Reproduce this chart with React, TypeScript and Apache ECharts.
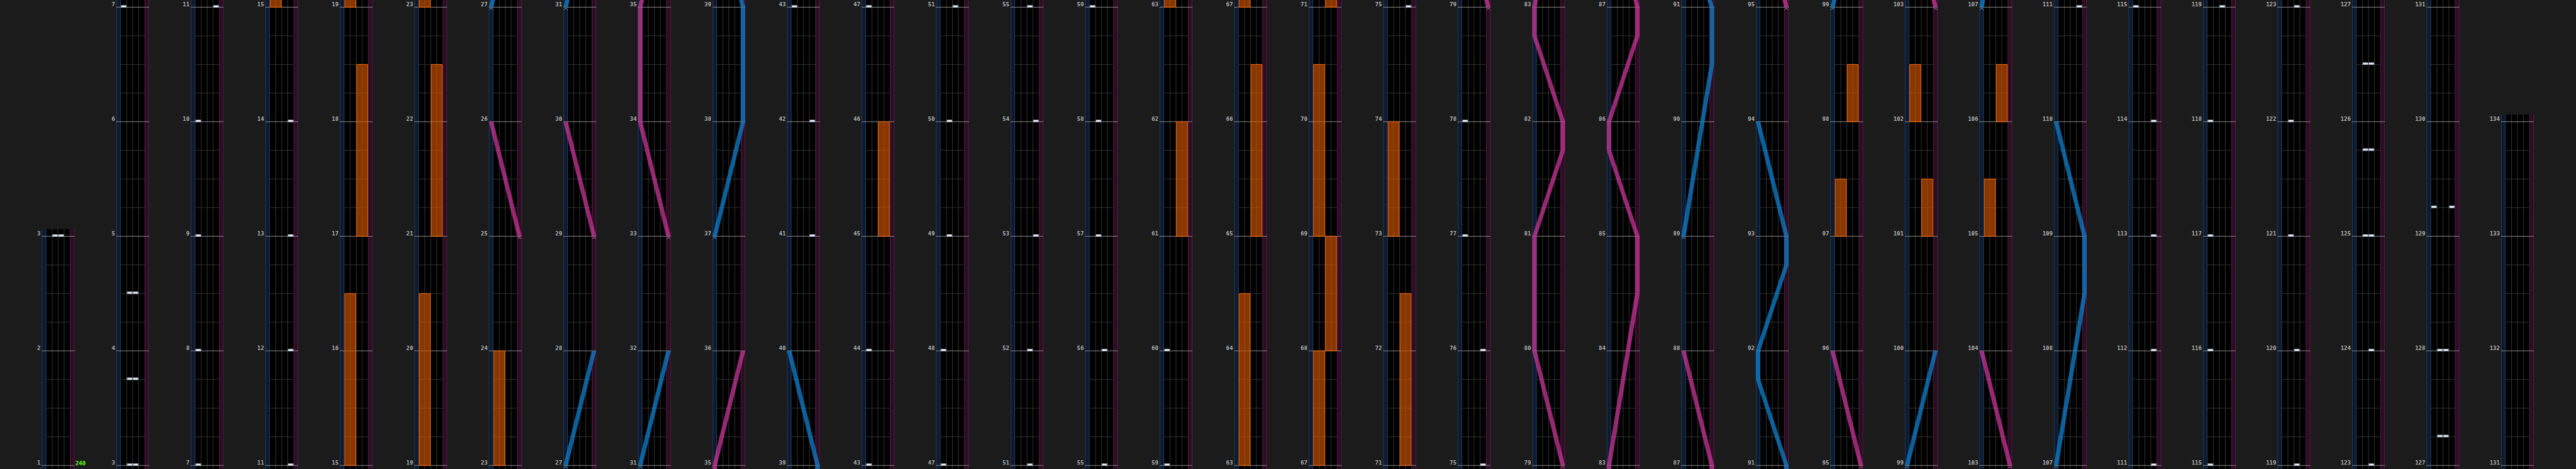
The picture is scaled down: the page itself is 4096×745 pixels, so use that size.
import React, { useEffect, useRef } from "react";
import * as echarts from "echarts";

// ---------- data ----------
// measure range shown by each column (bottom -> top)
const columnStarts = [1, 3, 7, 11, 15, 19, 23, 27, 31, 35, 39, 43, 47, 51, 55, 59, 63, 67, 71, 75, 79, 83, 87, 91, 95, 99, 103, 107, 111, 115, 119, 123, 127, 131];
const columnEnds = [3, 7, 11, 15, 19, 23, 27, 31, 35, 39, 43, 47, 51, 55, 59, 63, 67, 71, 75, 79, 83, 87, 91, 95, 99, 103, 107, 111, 115, 119, 123, 127, 131, 134];

// tempo marks: [measure, bpm]
const bpmChanges: [number, number][] = [[1, 240]];

// BT chips: [measure, lane 0..3]
const btNotes: [number, number][] = [
  [3, 1], [3, 2], [3.75, 1], [3.75, 2], [4.5, 1], [4.5, 2],
  [7, 0], [8, 0], [9, 0], [10, 0],
  [11, 3], [12, 3], [13, 3], [14, 3],
  [41, 3], [42, 3], [43, 0], [44, 0], [47, 0], [48, 0],
  [49, 1], [50, 1], [51, 2], [52, 2], [53, 3], [54, 3], [55, 2], [56, 2],
  [57, 1], [58, 1], [59, 0], [60, 0],
  [75, 3], [76, 3], [77, 0], [78, 0],
  [111, 3], [112, 3], [113, 3], [114, 3],
  [115, 0], [116, 0], [117, 0], [118, 0],
  [119, 2], [120, 2], [121, 1], [122, 1], [123, 2], [124, 2],
  [125, 1], [125, 2], [125.75, 1], [125.75, 2], [126.5, 1], [126.5, 2],
  [127.25, 1], [127.25, 2], [128, 1], [128, 2], [129.25, 0], [129.25, 3],
];

// FX holds: [side 0=L 1=R, start measure, end measure]
const fxHolds: [number, number, number][] = [
  [0, 15, 16.5], [1, 17, 18.5], [0, 19, 20.5], [1, 21, 22.5], [0, 23, 24],
  [1, 45, 46],
  [1, 61, 62], [0, 63, 64.5], [1, 65, 66.5], [0, 67, 68], [1, 68, 69], [0, 69, 70.5],
  [1, 71, 72.5], [0, 73, 74],
  [0, 97, 97.5], [1, 98, 98.5], [1, 101, 101.5], [0, 102, 102.5],
  [0, 105, 105.5], [1, 106, 106.5],
];

// lasers: polylines of [measure, position 0=left .. 1=right]
const leftLasers: [number, number][][] = [
  [[27, 0], [28, 1]],
  [[31, 0], [32, 1]],
  [[37, 0], [38, 1], [39, 1], [40, 0]],
  [[89, 0], [90.5, 1], [91, 1], [91.75, 0], [92, 0], [92.75, 1], [93, 1], [94, 0]],
  [[99, 0], [100, 1]],
  [[107, 0], [108.5, 1], [109, 1], [110, 0]],
];
const rightLasers: [number, number][][] = [
  [[25, 1], [26, 0]],
  [[29, 1], [30, 0]],
  [[33, 1], [34, 0], [35, 0], [36, 1]],
  [[79, 1], [80, 0], [81, 0], [81.75, 1], [82, 1], [82.75, 0], [83, 0], [84.5, 1], [85, 1], [85.75, 0], [86, 0], [86.75, 1], [87, 1], [88, 0]],
  [[95, 1], [96, 0]],
  [[103, 1], [104, 0]],
];

// ---------- layout (reference pixels, scaled by S) ----------
const S = 0.948;
const W = 4096;
const H = 745;
const COL_X0 = 70;
const COL_STEP = 125;
const COL_W = 55;
const BASE_Y = 780;
const MEASURE_PX = 192;
const PAD_BOTTOM = 6;
const PAD_TOP = 12;
const LANE_MIN = -0.75;
const LANE_MAX = 4.75;
const LASER_HALF = 0.375;
const FONT = '"DejaVu Sans Mono", monospace';

const laserX = (p: number) => -0.375 + 4.75 * p;

function board(api: any, lo: number, hi: number) {
  const c = (x: number, y: number) => api.coord([x, y]);
  const [xl, yt] = c(LANE_MIN, hi);
  const [xr, yb] = c(LANE_MAX, lo);
  const x0 = c(0, lo)[0];
  const x4 = c(4, lo)[0];
  const h = yb - yt;
  const line = (x1: number, y1: number, x2: number, y2: number, stroke: string) => ({
    type: "line", shape: { x1, y1, x2, y2 }, style: { stroke, lineWidth: 1 },
  });
  const kids: any[] = [
    { type: "rect", shape: { x: xl, y: yt, width: x0 - xl, height: h }, style: { fill: "#0f1a2e" } },
    { type: "rect", shape: { x: x0, y: yt, width: x4 - x0, height: h }, style: { fill: "#000000" } },
    { type: "rect", shape: { x: x4, y: yt, width: xr - x4, height: h }, style: { fill: "#2a0e22" } },
  ];
  for (let q = Math.ceil(lo * 4); q / 4 <= hi; q++) {
    if (q % 4 === 0) continue;
    const y = c(0, q / 4)[1];
    kids.push(line(x0, y, x4, y, "#333333"));
  }
  for (let l = 1; l <= 3; l++) {
    const x = c(l, lo)[0];
    kids.push(line(x, yt, x, yb, "#333333"));
  }
  kids.push(line(xl + 0.5, yt, xl + 0.5, yb, "#1d3d60"));
  kids.push(line(x0 - 0.5, yt, x0 - 0.5, yb, "#1d3d60"));
  kids.push(line(x4 + 0.5, yt, x4 + 0.5, yb, "#561a44"));
  kids.push(line(xr - 0.5, yt, xr - 0.5, yb, "#561a44"));
  for (let m = Math.ceil(lo); m <= hi; m++) {
    const y = c(0, m)[1];
    kids.push(line(xl, y, xr, y, "#8a8a8a"));
  }
  return { type: "group", children: kids };
}

function buildOption() {
  const grid: any[] = [];
  const xAxis: any[] = [];
  const yAxis: any[] = [];
  const series: any[] = [];

  columnStarts.forEach((start, k) => {
    const end = columnEnds[k];
    const lo = start - PAD_BOTTOM / MEASURE_PX;
    const hi = end + PAD_TOP / MEASURE_PX;
    const topRef = BASE_Y - (hi - start) * MEASURE_PX;
    const botRef = BASE_Y - (lo - start) * MEASURE_PX;
    grid.push({
      left: (COL_X0 + COL_STEP * k) * S,
      top: topRef * S,
      width: COL_W * S,
      height: (botRef - topRef) * S,
      containLabel: false,
    });
    xAxis.push({ gridIndex: k, type: "value", min: LANE_MIN, max: LANE_MAX, show: false });
    const labels: number[] = [];
    for (let m = Math.ceil(lo); m <= hi; m++) labels.push(m);
    yAxis.push({
      gridIndex: k,
      type: "value",
      min: lo,
      max: hi,
      axisLine: { show: false },
      axisTick: { show: false },
      splitLine: { show: false },
      axisLabel: {
        customValues: labels,
        formatter: (v: number) => String(Math.round(v)),
        margin: 2 * S,
        color: "#b0b0b0",
        fontSize: 9,
        fontFamily: FONT,
        fontWeight: "bold",
        verticalAlign: "bottom",
        lineHeight: 8,
      },
    });

    const inRange = (a: number, b: number) => b >= lo - 0.05 && a <= hi + 0.05;
    const common = { xAxisIndex: k, yAxisIndex: k, silent: true, animation: false };

    series.push({
      ...common, type: "custom", clip: true, z: 1,
      data: [[0, lo]],
      renderItem: (_p: any, api: any) => board(api, lo, hi),
    });

    const fxData = fxHolds.filter((f) => inRange(f[1], f[2]));
    series.push({
      ...common, type: "custom", clip: true, z: 2,
      data: fxData,
      renderItem: (_p: any, api: any) => {
        const side = api.value(0), m1 = api.value(1), m2 = api.value(2);
        const a = api.coord([side * 2 + 0.08, m2]);
        const b = api.coord([side * 2 + 1.92, m1]);
        return {
          type: "rect",
          shape: { x: a[0], y: a[1], width: b[0] - a[0], height: b[1] - a[1] },
          style: { fill: "rgba(212,86,0,0.64)", stroke: "#ff6a0a", lineWidth: 1 },
        };
      },
    });

    const laserData: number[][] = [];
    leftLasers.forEach((pl, i) => { if (inRange(pl[0][0], pl[pl.length - 1][0])) laserData.push([i, 0]); });
    rightLasers.forEach((pl, i) => { if (inRange(pl[0][0], pl[pl.length - 1][0])) laserData.push([i, 1]); });
    series.push({
      ...common, type: "custom", clip: true, z: 3,
      data: laserData,
      renderItem: (_p: any, api: any) => {
        const idx = api.value(0), side = api.value(1);
        const pl = side === 0 ? leftLasers[idx] : rightLasers[idx];
        const leftEdge = pl.map(([m, p]) => api.coord([laserX(p) - LASER_HALF, m]));
        const rightEdge = pl.map(([m, p]) => api.coord([laserX(p) + LASER_HALF, m])).reverse();
        const [sm, sp] = pl[0];
        const st = api.coord([laserX(sp), sm]);
        const fill = side === 0 ? "rgba(16,132,212,0.72)" : "rgba(208,56,158,0.72)";
        const chev = side === 0 ? "#6ab8ee" : "#ee78c8";
        return {
          type: "group",
          children: [
            { type: "polygon", shape: { points: leftEdge.concat(rightEdge) }, style: { fill } },
            {
              type: "polyline",
              shape: { points: [[st[0] - 3 * S, st[1] + 4.5 * S], [st[0], st[1] + 1.5 * S], [st[0] + 3 * S, st[1] + 4.5 * S]] },
              style: { stroke: chev, lineWidth: 1, fill: null },
            },
          ],
        };
      },
    });

    const btData = btNotes.filter((n) => inRange(n[0], n[0]));
    series.push({
      ...common, type: "custom", clip: true, z: 4,
      data: btData,
      renderItem: (_p: any, api: any) => {
        const m = api.value(0), lane = api.value(1);
        const a = api.coord([lane + 0.07, m]);
        const b = api.coord([lane + 0.93, m]);
        return {
          type: "rect",
          shape: { x: a[0], y: a[1] - 3 * S, width: b[0] - a[0], height: 3.4 * S },
          style: { fill: "#e9eff8", stroke: "#8e9cad", lineWidth: 0.7 },
        };
      },
    });

    const bpmData = bpmChanges.filter((b) => inRange(b[0], b[0]) && b[0] >= start && b[0] < end);
    if (bpmData.length) {
      series.push({
        ...common, type: "custom", clip: false, z: 5,
        data: bpmData,
        renderItem: (_p: any, api: any) => {
          const pt = api.coord([LANE_MAX, api.value(0)]);
          return {
            type: "text",
            x: pt[0] + 1.5 * S,
            y: pt[1] + 1,
            style: {
              text: String(api.value(1)),
              fill: "#66ff1a",
              font: `bold 9px ${FONT}`,
              align: "left",
              verticalAlign: "bottom",
            },
          };
        },
      });
    }
  });

  return {
    animation: false,
    backgroundColor: "#1b1b1b",
    grid,
    xAxis,
    yAxis,
    series,
  };
}

export default function App() {
  const ref = useRef<HTMLDivElement>(null);
  useEffect(() => {
    document.body.style.margin = "0";
    document.body.style.background = "#1b1b1b";
    const chart = echarts.init(ref.current as HTMLDivElement, undefined, { renderer: "svg", width: W, height: H });
    chart.setOption(buildOption() as any);
    return () => chart.dispose();
  }, []);
  return (
    <div
      ref={ref}
      style={{ position: "absolute", left: 0, top: 0, width: W, height: H, background: "#1b1b1b" }}
    />
  );
}
